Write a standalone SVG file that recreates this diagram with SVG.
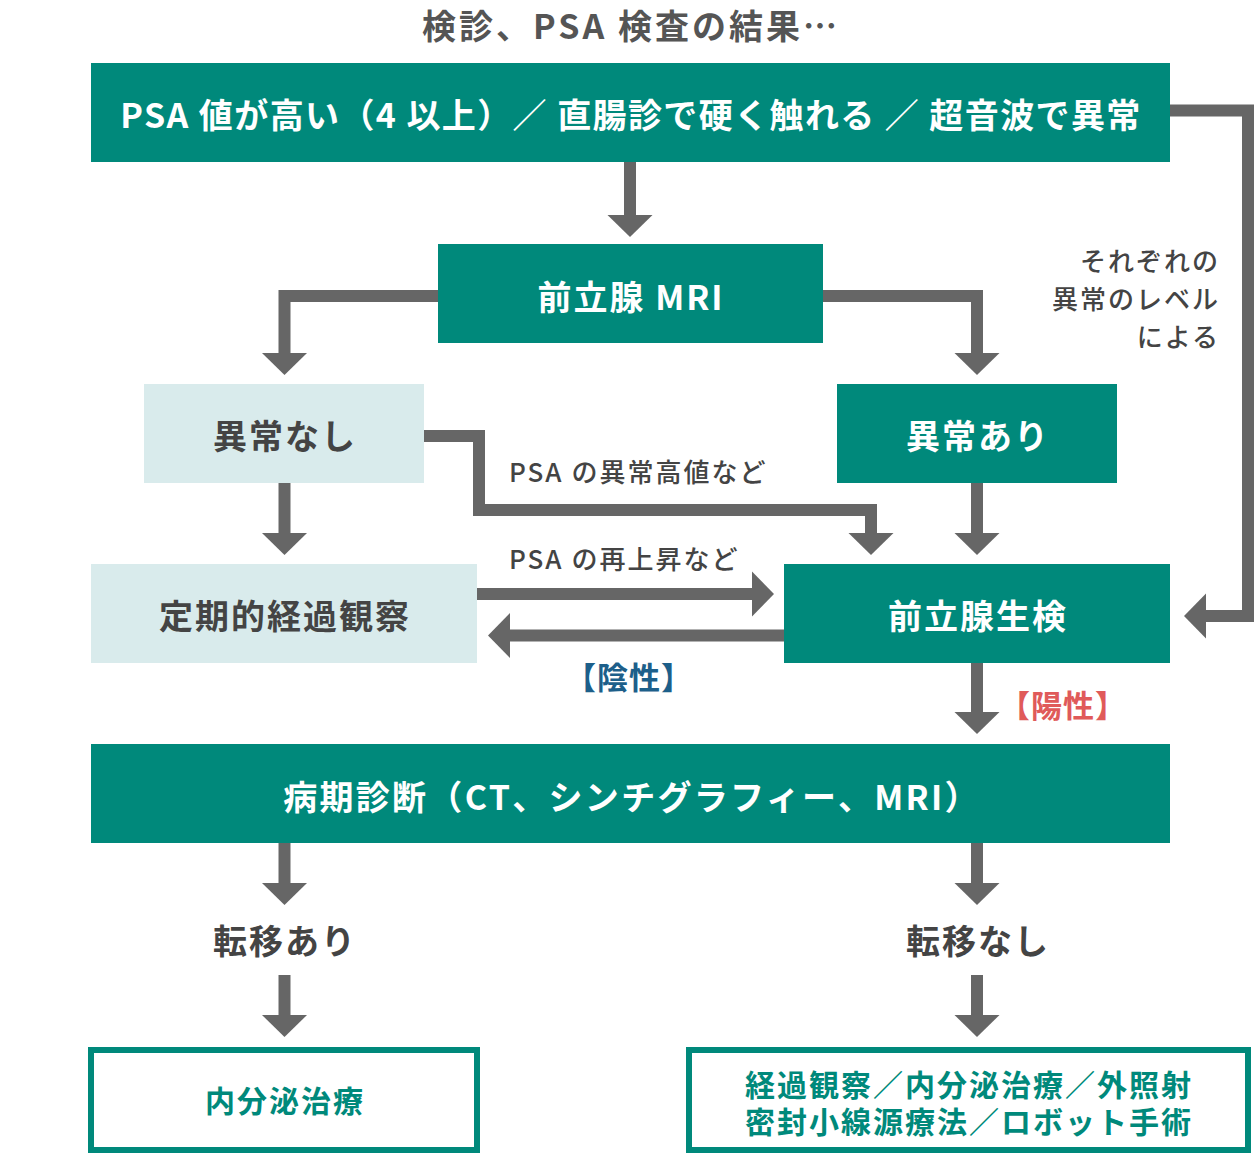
<svg xmlns="http://www.w3.org/2000/svg" width="1260" height="1160" viewBox="0 0 1260 1160">
<defs>
<style>
.t{font-family:"Noto Sans CJK JP","Noto Sans",sans-serif;font-weight:700;text-anchor:middle;dominant-baseline:central}
.w{fill:#fff;font-size:34px;letter-spacing:2px}
.d{fill:#444;font-size:34px;letter-spacing:2px}
.lbl{font-family:"Noto Sans CJK JP","Noto Sans",sans-serif;font-weight:500;fill:#444;font-size:26px;letter-spacing:2px}
.dark{fill:#00897b}
.light{fill:#d9ebec}
.out{fill:#fff;stroke:#00897b;stroke-width:6}
.g{fill:#00897b;font-size:30px;letter-spacing:2px}
.c{fill:none;stroke:#666;stroke-width:12;stroke-linejoin:miter;marker-end:url(#ah)}
</style>
<marker id="ah" markerUnits="userSpaceOnUse" markerWidth="24" markerHeight="46" viewBox="0 -23 24 46" refX="1" refY="0" orient="auto"><path d="M0,-22.5 L22,0 L0,22.5Z" fill="#666"/></marker>
</defs>
<rect width="1260" height="1160" fill="#fff"/>
<text class="t" x="631" y="24" style="fill:#555;font-size:34px;letter-spacing:3px">検診、PSA 検査の結果…</text>

<g id="connectors">
<path class="c" d="M630,162 V216"/>
<path class="c" d="M438,296 H284.5 V354"/>
<path class="c" d="M823,296 H977 V354"/>
<path class="c" d="M284.5,483 V534"/>
<path class="c" d="M424,436 H479 V510 H871 V534"/>
<path class="c" d="M977,483 V534"/>
<path class="c" d="M477,594 H753"/>
<path class="c" d="M784,635.5 H509"/>
<path class="c" d="M1170,110.5 H1248 V616 H1205"/>
<path class="c" d="M977,663 V713"/>
<path class="c" d="M284.5,843 V884"/>
<path class="c" d="M977,843 V884"/>
<path class="c" d="M284.5,975 V1016"/>
<path class="c" d="M977,975 V1016"/>
<text class="lbl" x="509" y="482">PSA の異常高値など</text>
<text class="lbl" x="509" y="569">PSA の再上昇など</text>
<text class="lbl" x="1220" y="271" text-anchor="end">それぞれの</text>
<text class="lbl" x="1220" y="309" text-anchor="end">異常のレベル</text>
<text class="lbl" x="1220" y="347" text-anchor="end">による</text>
<text class="t" x="629" y="675" style="fill:#1d5f8a;font-size:31px;letter-spacing:1px">【陰性】</text>
<text class="t" x="1063" y="703" style="fill:#e05a5a;font-size:31px;letter-spacing:1px">【陽性】</text>
</g>

<g id="top">
<rect class="dark" x="91" y="63" width="1079" height="99"/>
<text class="t w" x="631" y="113" style="letter-spacing:1.4px">PSA 値が高い（4 以上）／ 直腸診で硬く触れる ／ 超音波で異常</text>
</g>
<g id="mri">
<rect class="dark" x="438" y="244" width="385" height="99"/>
<text class="t w" x="631" y="295">前立腺 MRI</text>
</g>
<g id="normal">
<rect class="light" x="144" y="384" width="280" height="99"/>
<text class="t d" x="285" y="434">異常なし</text>
</g>
<g id="abnormal">
<rect class="dark" x="837" y="384" width="280" height="99"/>
<text class="t w" x="978" y="434">異常あり</text>
</g>
<g id="observe">
<rect class="light" x="91" y="564" width="386" height="99"/>
<text class="t d" x="285" y="614">定期的経過観察</text>
</g>
<g id="biopsy">
<rect class="dark" x="784" y="564" width="386" height="99"/>
<text class="t w" x="978" y="614">前立腺生検</text>
</g>
<g id="staging">
<rect class="dark" x="91" y="744" width="1079" height="99"/>
<text class="t w" x="632" y="795" style="letter-spacing:2.3px">病期診断（CT、シンチグラフィー、MRI）</text>
</g>
<g id="meta-yes">
<text class="t d" x="285" y="939">転移あり</text>
</g>
<g id="meta-no">
<text class="t d" x="978" y="939">転移なし</text>
</g>
<g id="hormone">
<rect class="out" x="91" y="1050" width="386" height="100"/>
<text class="t g" x="285" y="1099">内分泌治療</text>
</g>
<g id="treatments">
<rect class="out" x="689" y="1050" width="559" height="100"/>
<text class="t g"><tspan x="969" y="1083">経過観察／内分泌治療／外照射</tspan><tspan x="969" y="1120">密封小線源療法／ロボット手術</tspan></text>
</g>
</svg>
